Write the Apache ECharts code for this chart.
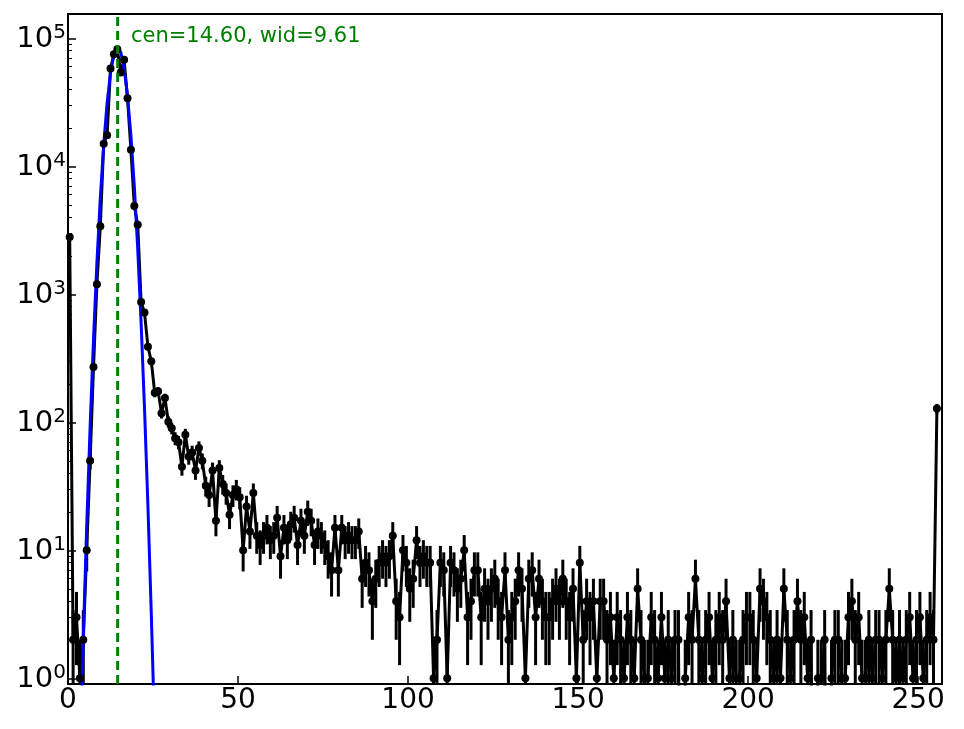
<!DOCTYPE html>
<html><head><meta charset="utf-8">
<script src="https://cdn.jsdelivr.net/npm/echarts@6/dist/echarts.min.js"></script>
<style>html,body{margin:0;padding:0;background:#fff}#c{width:964px;height:729px}</style>
</head><body><div id="c"></div>
<script>
// histogram counts per bin (bin i drawn at its centre i+0.5)
const counts = [
  2800,2,3,1,2,10,50,270,1200,3400,
  15000,17500,58000,75000,82000,54000,68000,34000,13500,4900,
  3500,870,720,390,300,170,175,118,155,101,
  90,75,70,45,80,54,58,42,63,50,
  32,27,42,17,44,33,28,19,27,30,
  26,10,22,14,28,13,11,13,15,12,
  13,18,9,15,12,16,18,11,17,13,
  20,17,11,14,13,11,9,7,15,7,
  15,12,13,12,12,14,6,8,7,4,
  6,8,9,8,9,13,4,3,10,8,
  5,6,12,8,9,8,8,1,2,8,
  7,1,8,7,5,6,10,3,4,7,
  7,3,5,4,5,6,4,3,7,2,
  3,4,7,5,1,6,7,3,6,4,
  3,3,4,5,4,6,4,3,5,1,
  8,2,4,3,4,1,4,4,2,3,
  1,3,2,1,3,2,1,5,2,1,
  1,3,2,1,3,1,2,1,2,2,
  0,1,3,2,6,2,1,2,3,1,
  2,3,2,4,1,2,1,1,2,3,
  3,2,1,5,4,3,2,1,2,1,
  5,2,1,2,4,2,3,1,2,0,
  1,1,2,0,1,2,2,1,1,3,
  4,2,3,1,1,2,1,2,2,1,
  2,5,2,1,2,1,2,3,1,2,
  3,1,2,3,2,128
];
// fitted curve values read at bins 2..26
const fitStartBin = 2;
const fitValues = [0.021,0.23,2.08,15.4,92.2,448,1770,5673,14780,31270,53720,74940,84910,78130,58380,35430,17460,6988,2271,599,128.6,22.4,3.16,0.36,0.034];
const fitCenter = 14.60;
const fitWidth = 9.61;
const xTicks = [0,50,100,150,200,250];
const yMajorTicks = [1,10,100,1000,10000,100000];
const yMinorTicks = [2,3,4,5,6,7,8,9,20,30,40,50,60,70,80,90,200,300,400,500,600,700,800,900,
  2000,3000,4000,5000,6000,7000,8000,9000,20000,30000,40000,50000,60000,70000,80000,90000];
const xMin = 0, xMax = 257;
const yMin = 0.903, yMax = 154900;

const FONT = 'DejaVu Sans';
const FLOOR = 1e-3;

const lineData = counts.map((v, i) => v > 0
  ? [i + 0.5, v]
  : { value: [i + 0.5, FLOOR], symbol: 'none' });
const errData = [];
counts.forEach((v, i) => {
  if (v > 0) {
    const s = Math.sqrt(v);
    errData.push([i + 0.5, Math.max(v - s, yMin), Math.min(v + s, yMax)]);
  }
});
const fitData = fitValues.map((v, k) => [fitStartBin + k + 0.5, v]);

const chart = echarts.init(document.getElementById('c'), null, {renderer: 'canvas'});
chart.setOption({
  animation: false,
  backgroundColor: '#fff',
  grid: {left: 68, right: 22, top: 14, bottom: 45, show: true, borderColor: '#000', borderWidth: 2, backgroundColor: 'transparent'},
  xAxis: {
    type: 'value', min: xMin, max: xMax, interval: 50,
    axisLine: {show: false},
    splitLine: {show: false},
    axisTick: {inside: true, length: 8, lineStyle: {color: '#000', width: 1.5}},
    axisLabel: {color: '#000', fontFamily: FONT, fontSize: 28, margin: 3,
      customValues: xTicks, formatter: v => String(v)}
  },
  yAxis: [{
    type: 'log', logBase: 10, min: yMin, max: yMax,
    axisLine: {show: false},
    splitLine: {show: false},
    axisTick: {inside: true, length: 8, lineStyle: {color: '#000', width: 1.5}, customValues: yMajorTicks},
    axisLabel: {
      margin: 2, color: '#000', customValues: yMajorTicks,
      formatter: v => '{b|10}{s|' + Math.round(Math.log10(v)) + '}',
      rich: {
        b: {fontFamily: FONT, fontSize: 29, lineHeight: 32, color: '#000', verticalAlign: 'bottom'},
        s: {fontFamily: FONT, fontSize: 20, lineHeight: 16, color: '#000', verticalAlign: 'top'}
      }
    }
  }, {
    type: 'log', logBase: 10, min: yMin, max: yMax, position: 'left',
    axisLine: {show: false}, splitLine: {show: false}, axisLabel: {show: false},
    axisTick: {inside: true, length: 4, lineStyle: {color: '#000', width: 1}, customValues: yMinorTicks}
  }],
  graphic: [{
    type: 'text', left: 131, top: 26, z: 100,
    style: {text: 'cen=' + fitCenter.toFixed(2) + ', wid=' + fitWidth.toFixed(2),
      fill: '#008000', font: '21px "' + FONT + '"'}
  }],
  series: [
    {
      type: 'custom', name: 'err', z: 2, clip: true,
      data: errData, encode: {x: 0, y: [1, 2]},
      renderItem: (params, api) => {
        const x = api.value(0);
        const p1 = api.coord([x, api.value(1)]);
        const p2 = api.coord([x, api.value(2)]);
        return {type: 'line', shape: {x1: p1[0], y1: p1[1], x2: p2[0], y2: p2[1]},
          style: {stroke: '#000', lineWidth: 3}};
      }
    },
    {
      type: 'line', name: 'data-line', z: 3, clip: true, data: lineData,
      showSymbol: false, symbol: 'none',
      lineStyle: {color: '#000', width: 3}
    },
    {
      type: 'line', name: 'fit', z: 4, clip: true, data: fitData,
      symbol: 'none', lineStyle: {color: '#0000ff', width: 3}
    },
    {
      type: 'line', name: 'data-pts', z: 5, clip: true, data: lineData,
      symbol: 'circle', symbolSize: 8, showAllSymbol: true,
      itemStyle: {color: '#000'}, lineStyle: {width: 0, opacity: 0}
    },
    {
      type: 'line', name: 'cen', z: 6, clip: true,
      data: [[fitCenter, yMin], [fitCenter, yMax]],
      symbol: 'none', lineStyle: {color: '#008000', width: 3, type: [9, 5]}
    }
  ]
});
</script></body></html>
